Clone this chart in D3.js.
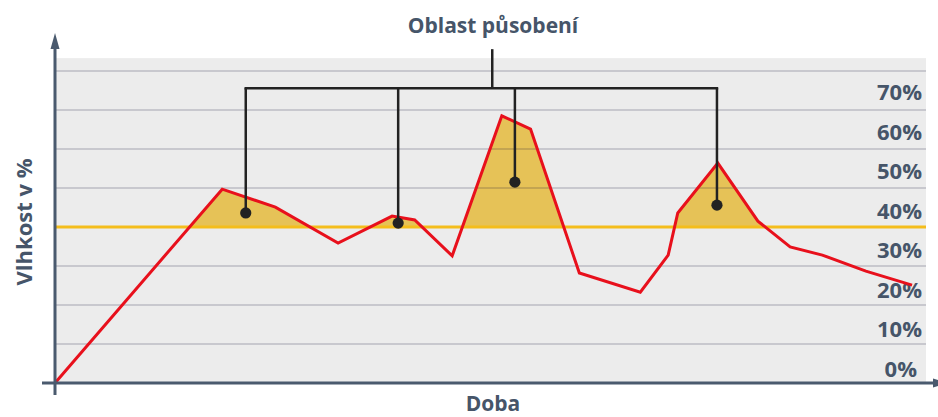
<!DOCTYPE html>
<html>
<head>
<meta charset="utf-8">
<script src="https://cdn.jsdelivr.net/npm/d3@7/dist/d3.min.js"></script>
<style>
  html, body { margin: 0; padding: 0; background: #ffffff; }
  svg { display: block; }
  text { font-family: "Open Sans", Lato, sans-serif; font-weight: 700; fill: #465569; }
</style>
</head>
<body>
<svg id="chart" width="938" height="417"></svg>
<script>
// Humidity over time (x in relative time units 0–100, y in %)
const timePoints = [0, 19.2, 25.3, 32.5, 38.7, 41.3, 45.6, 51.3, 54.6, 60.2, 67.2, 70.4, 71.5, 76.1, 80.7, 84.4, 88.1, 93.1, 98.4];
const humidity   = [0, 49.7, 45.1, 35.9, 42.8, 41.8, 32.6, 68.5, 65.1, 28.2, 23.3, 32.8, 43.6, 56.4, 41.5, 34.9, 32.8, 28.7, 25.1];

// Threshold above which the humidity takes effect
const threshold = 40;

// Tick labels on the right side
const tickValues = [0, 10, 20, 30, 40, 50, 60, 70];
const tickLabels = ["0%", "10%", "20%", "30%", "40%", "50%", "60%", "70%"];
const gridValues = [10, 20, 30, 40, 50, 60, 70, 80];

// Markers inside each zone of action, joined by the bracket
const markerTimes = [21.9, 39.4, 52.8, 76.0];
const markerValues = [43.6, 41.0, 51.5, 45.6];

// Texts
const titleText = "Oblast působení";
const xTitle = "Doba";
const yTitle = "Vlhkost v %";

const svg = d3.select("#chart");
const left = 55, right = 926, bottom = 383, top80 = 71;

const x = d3.scaleLinear().domain([0, 100]).range([left, right]);
const y = d3.scaleLinear().domain([0, 80]).range([bottom, top80]);

const data = timePoints.map((t, i) => ({ t, v: humidity[i] }));

// plot background
svg.append("rect")
  .attr("x", left).attr("y", y(83.3))
  .attr("width", right - left).attr("height", bottom - y(83.3))
  .attr("fill", "#ececec");

// shaded zones where humidity exceeds the threshold
svg.append("clipPath").attr("id", "above")
  .append("rect")
  .attr("x", left).attr("y", 0)
  .attr("width", right - left).attr("height", y(threshold));

svg.append("path")
  .datum(data)
  .attr("clip-path", "url(#above)")
  .attr("fill", "#e6c257")
  .attr("d", d3.area().x(d => x(d.t)).y0(y(threshold)).y1(d => y(d.v)));

// horizontal gridlines
svg.append("g").selectAll("line")
  .data(gridValues).join("line")
  .attr("x1", left).attr("x2", right)
  .attr("y1", d => y(d)).attr("y2", d => y(d))
  .attr("stroke", "rgba(10,10,50,0.16)")
  .attr("stroke-width", 2);

// threshold line
svg.append("line")
  .attr("x1", left).attr("x2", right)
  .attr("y1", y(threshold)).attr("y2", y(threshold))
  .attr("stroke", "#f4bd1c").attr("stroke-width", 3);

// tick labels sit just above their gridline
svg.append("g").selectAll("text")
  .data(tickValues).join("text")
  .attr("x", d => d === 0 ? 917 : 922)
  .attr("y", d => y(d) - 6 - d * 0.055)
  .attr("text-anchor", "end")
  .attr("font-size", 22)
  .text((d, i) => tickLabels[i]);

// humidity line
svg.append("path")
  .datum(data)
  .attr("fill", "none")
  .attr("stroke", "#e8101c")
  .attr("stroke-width", 3)
  .attr("stroke-linejoin", "miter")
  .attr("d", d3.line().x(d => x(d.t)).y(d => y(d.v)));

// bracket connecting the zones of action
const bracketLevel = 75.6;
const stemTop = 85.6;
const br = svg.append("g").attr("stroke", "#222222").attr("stroke-width", 2.5).attr("fill", "none");
br.append("line")
  .attr("x1", x(d3.min(markerTimes))).attr("x2", x(d3.max(markerTimes)))
  .attr("y1", y(bracketLevel)).attr("y2", y(bracketLevel))
  .attr("stroke-linecap", "square");
br.append("line")
  .attr("x1", x(50.2)).attr("x2", x(50.2))
  .attr("y1", y(stemTop)).attr("y2", y(bracketLevel));
br.selectAll(".drop")
  .data(markerTimes).join("line")
  .attr("class", "drop")
  .attr("x1", d => x(d)).attr("x2", d => x(d))
  .attr("y1", y(bracketLevel))
  .attr("y2", (d, i) => y(markerValues[i]));
svg.append("g").selectAll("circle")
  .data(markerTimes).join("circle")
  .attr("cx", d => x(d))
  .attr("cy", (d, i) => y(markerValues[i]))
  .attr("r", 5.6)
  .attr("fill", "#222222");

// axes with arrowheads
const axisColor = "#4a5a6e";
svg.append("line")
  .attr("x1", left).attr("x2", left)
  .attr("y1", bottom + 12).attr("y2", 47)
  .attr("stroke", axisColor).attr("stroke-width", 3);
svg.append("path")
  .attr("d", d3.line()([[left - 4.5, 49], [left, 33], [left + 4.5, 49]]) + "Z")
  .attr("fill", axisColor);
svg.append("line")
  .attr("x1", 42).attr("x2", 936)
  .attr("y1", bottom).attr("y2", bottom)
  .attr("stroke", axisColor).attr("stroke-width", 3);
svg.append("path")
  .attr("d", d3.line()([[933, bottom - 4.5], [949, bottom], [933, bottom + 4.5]]) + "Z")
  .attr("fill", axisColor);

// titles
svg.append("text")
  .attr("x", 493).attr("y", 33)
  .attr("text-anchor", "middle")
  .attr("font-size", 21)
  .text(titleText);

svg.append("text")
  .attr("x", 493).attr("y", 411)
  .attr("text-anchor", "middle")
  .attr("font-size", 21)
  .text(xTitle);

svg.append("text")
  .attr("transform", "translate(32,222) rotate(-90)")
  .attr("text-anchor", "middle")
  .attr("font-size", 22)
  .text(yTitle);
</script>
</body>
</html>
